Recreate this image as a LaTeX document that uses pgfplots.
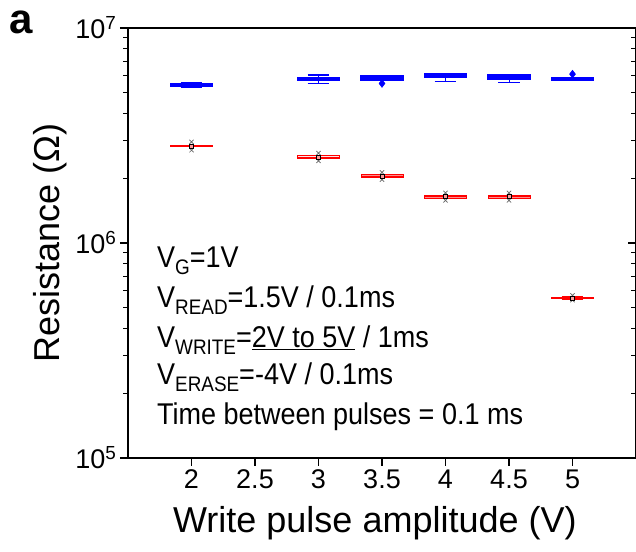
\documentclass[border=0pt]{standalone}
\usepackage{fontspec}
\setmainfont{Liberation Sans}
\usepackage{graphicx}
\usepackage{pgfplots}
\pgfplotsset{compat=1.18}
\usetikzlibrary{calc}

\newcommand{\annot}{\fontsize{30bp}{34bp}\selectfont}
\newcommand{\nar}[1]{\scalebox{0.9}[1]{#1}}
\newcommand{\sub}[1]{\raisebox{-7bp}{\fontsize{21bp}{21bp}\selectfont #1}}

% box: #1 line colour, #2 fill, #3 position, #4 lower whisker, #5 lower quartile,
%      #6 median, #7 upper quartile, #8 upper whisker, #9 line width
\newcommand{\bp}[9]{%
  \pgfmathsetmacro\xa{#3-0.165}\pgfmathsetmacro\xb{#3+0.165}%
  \pgfmathsetmacro\wa{#3-0.085}\pgfmathsetmacro\wb{#3+0.085}%
  \addplot[draw=#1, line width=1bp] coordinates {(#3,#4) (#3,#5)};
  \addplot[draw=#1, line width=1bp] coordinates {(#3,#7) (#3,#8)};
  \addplot[draw=#1, line width=1.2bp] coordinates {(\wa,#4) (\wb,#4)};
  \addplot[draw=#1, line width=1.2bp] coordinates {(\wa,#8) (\wb,#8)};
  \addplot[draw=#1, fill=#2, line width=#9] coordinates {(\xa,#5) (\xb,#5) (\xb,#7) (\xa,#7)} -- cycle;
  \addplot[draw=#1, line width=#9] coordinates {(\xa,#6) (\xb,#6)};
}

\begin{document}
\begin{tikzpicture}
\begin{axis}[
  name=main,
  scale only axis, width=508bp, height=430bp,
  xmin=1.5, xmax=5.5, ymin=1e5, ymax=1e7, ymode=log,
  xtick={2,2.5,3,3.5,4,4.5,5},
  xticklabels={2,2.5,3,3.5,4,4.5,5},
  ytick={1e5,1e6,1e7},
  yticklabels={10\textsuperscript{5},10\textsuperscript{6},10\textsuperscript{7}},
  xtick pos=bottom, ytick pos=left, tick align=outside,
  major tick length=8bp, minor tick length=5bp,
  tick style={black, line width=1.2bp},
  axis line style={line width=1.5bp},
  ticklabel style={font=\fontsize{27bp}{30bp}\selectfont},
  xlabel={Write pulse amplitude (V)},
  ylabel={Resistance (Ω)},
  label style={font=\fontsize{36bp}{40bp}\selectfont},
  xlabel style={at={(axis description cs:0.486,-0.151)}, anchor=center},
  ylabel style={at={(axis description cs:-0.154,0.5)}, anchor=center},
  clip=false,
]
% high resistance state
\bp{blue}{blue}{2}{5.28e6}{5.36e6}{5.43e6}{5.50e6}{5.55e6}{1.5bp}
\bp{blue}{blue}{3}{5.5e6}{5.70e6}{5.8e6}{5.90e6}{6.05e6}{1.5bp}
\bp{blue}{blue}{3.5}{5.72e6}{5.74e6}{5.85e6}{5.98e6}{6.0e6}{1.5bp}
\bp{blue}{blue}{4}{5.66e6}{5.88e6}{6.0e6}{6.12e6}{6.15e6}{1.5bp}
\bp{blue}{blue}{4.5}{5.6e6}{5.8e6}{5.95e6}{6.08e6}{6.1e6}{1.5bp}
\bp{blue}{blue}{5}{5.7e6}{5.74e6}{5.8e6}{5.86e6}{5.88e6}{1.5bp}
\addplot[only marks, mark=diamond*, mark size=4bp, blue] coordinates {(3.5,5.52e6) (5,6.1e6)};
% low resistance state
\bp{red}{red!45}{2}{2.80e6}{2.805e6}{2.82e6}{2.835e6}{2.84e6}{0.8bp}
\bp{red}{red!10}{3}{2.47e6}{2.48e6}{2.51e6}{2.55e6}{2.56e6}{0.8bp}
\bp{red}{red!45}{3.5}{2.02e6}{2.025e6}{2.05e6}{2.08e6}{2.085e6}{0.8bp}
\bp{red}{red!45}{4}{1.615e6}{1.62e6}{1.64e6}{1.66e6}{1.665e6}{0.8bp}
\bp{red}{red!45}{4.5}{1.615e6}{1.62e6}{1.64e6}{1.66e6}{1.665e6}{0.8bp}
\bp{red}{red!45}{5}{5.48e5}{5.5e5}{5.55e5}{5.6e5}{5.62e5}{0.8bp}
\addplot[only marks, mark=x, mark size=3bp, black!60, line width=0.7bp] coordinates {
  (2,2.95e6) (2,2.70e6) (3,2.62e6) (3,2.41e6) (3.5,2.13e6) (3.5,1.97e6)
  (4,1.71e6) (4,1.58e6) (4.5,1.71e6) (4.5,1.58e6) (5,5.7e5) (5,5.42e5)};
\addplot[only marks, mark=square*, mark size=2bp, draw=black, fill=red!40, line width=0.8bp] coordinates {
  (2,2.82e6) (3,2.51e6) (3.5,2.05e6) (4,1.64e6) (4.5,1.64e6) (5,5.55e5)};
% annotations
\node[anchor=base west, inner sep=0pt, font=\annot] at (rel axis cs:0.057,0.444) {\nar{V\sub{G}=1V}};
\node[anchor=base west, inner sep=0pt, font=\annot] at (rel axis cs:0.057,0.351) {\nar{V\sub{READ}=1.5V / 0.1ms}};
\node[anchor=base west, inner sep=0pt, font=\annot] at (rel axis cs:0.057,0.258) {\nar{V\sub{WRITE}=\underline{2V to 5V} / 1ms}};
\node[anchor=base west, inner sep=0pt, font=\annot] at (rel axis cs:0.057,0.170) {\nar{V\sub{ERASE}=-4V / 0.1ms}};
\node[anchor=base west, inner sep=0pt, font=\annot] at (rel axis cs:0.057,0.077) {\nar{Time between pulses = 0.1 ms}};
\node[font=\fontsize{42bp}{44bp}\selectfont\bfseries] at (rel axis cs:-0.211,1.014) {a};
\end{axis}
\begin{axis}[
  scale only axis, width=508bp, height=430bp,
  xmin=1.5, xmax=5.5, ymin=1e5, ymax=1e7, ymode=log,
  axis y line*=right, hide x axis,
  ytick={1e5,1e6,1e7}, yticklabels={},
  tick align=inside,
  major tick length=8bp, minor tick length=5bp,
  tick style={black, line width=1.2bp},
  axis line style={line width=1.5bp},
]
\end{axis}
\pgfresetboundingbox
\path ($(main.south west)+(-128bp,-93bp)$) rectangle ($(main.north east)+(0bp,28bp)$);
\end{tikzpicture}
\end{document}
